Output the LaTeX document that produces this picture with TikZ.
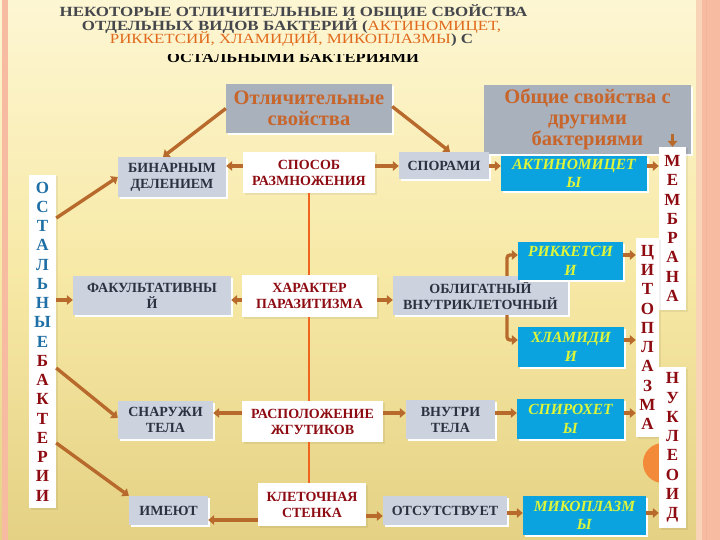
\documentclass[tikz,border=0pt]{standalone}
\usepackage{fontspec}
\setmainfont{Liberation Serif}
\usetikzlibrary{arrows.meta,calc,shadows}
\definecolor{bgtop}{HTML}{FDF6D3}
\definecolor{bgmid}{HTML}{F7E9A6}
\definecolor{bgbot}{HTML}{E4D184}
\definecolor{hgray}{HTML}{A9B1BC}
\definecolor{lgray}{HTML}{CCD3DE}
\definecolor{cyanb}{HTML}{0AA2DF}
\definecolor{ylw}{HTML}{DDF53A}
\definecolor{horange}{HTML}{C8652B}
\definecolor{dred}{HTML}{8E0B12}
\definecolor{oblue}{HTML}{1E6FA5}
\definecolor{darktxt}{HTML}{2B3140}
\definecolor{arrbrown}{HTML}{B86A2C}
\definecolor{vline}{HTML}{F0651E}
\definecolor{pinkb}{HTML}{F7BBA2}
\definecolor{orangec}{HTML}{F28A3A}
\definecolor{titlegray}{HTML}{45474C}
\definecolor{titleor}{HTML}{E06A1E}
\begin{document}
\begin{tikzpicture}[x=1pt,y=-1pt,
  box/.style={draw=none,inner sep=1pt,align=center,font=\fontsize{14}{16}\selectfont\bfseries,text=darktxt},
  graybox/.style={box,fill=lgray,drop shadow={shadow xshift=1.5pt,shadow yshift=-2pt,fill=white,opacity=1}},
  whitebox/.style={box,fill=white,text=dred,drop shadow={shadow xshift=1.5pt,shadow yshift=-2pt,fill=black,opacity=0.06}},
  cyanbox/.style={box,fill=cyanb,text=ylw,font=\fontsize{15.5}{18.5}\selectfont\bfseries\itshape,drop shadow={shadow xshift=1.5pt,shadow yshift=-2pt,fill=white,opacity=1}},
  hdrbox/.style={box,fill=hgray,text=horange,font=\fontsize{20.5}{21}\selectfont\bfseries,drop shadow={shadow xshift=1.5pt,shadow yshift=-2pt,fill=white,opacity=1}},
  colbox/.style={fill=white,inner sep=0pt,align=center,font=\fontsize{17}{19.25}\selectfont\bfseries,text=dred,drop shadow={shadow xshift=1.5pt,shadow yshift=-1.5pt,fill=black,opacity=0.06}},
  arr/.style={draw=arrbrown,line width=3.4pt,-{Triangle[length=6pt,width=9.5pt]}},
  vl/.style={draw=vline,line width=1.6pt},
  ttl/.style={inner sep=0pt,font=\fontsize{14}{14}\selectfont\bfseries,text=titlegray}
]
\useasboundingbox (0,0) rectangle (720,540);
% background
\shade[top color=bgtop,bottom color=bgbot,middle color=bgmid] (0,0) rectangle (720,540);
\fill[pinkb] (2,0) rectangle (8,540);
\fill[pinkb!60!bgtop] (696,0) rectangle (702,540);
\fill[pinkb] (702,0) rectangle (720,540);
\draw[pinkb!80!black!15!pinkb,line width=0.8pt] (706,0) -- (706,540);
\fill[orangec] (663,463) circle (20);

% title
\node[ttl] (t1) at (293.5,12.5) {\scalebox{1.21}[1]{НЕКОТОРЫЕ ОТЛИЧИТЕЛЬНЫЕ И ОБЩИЕ СВОЙСТВА}};
\node[ttl] (t2) at (291.5,26) {\scalebox{1.21}[1]{ОТДЕЛЬНЫХ ВИДОВ БАКТЕРИЙ (\textcolor{titleor}{\mdseries АКТИНОМИЦЕТ,}}};
\node[ttl] (t3) at (291.5,39.5) {\scalebox{1.21}[1]{\textcolor{titleor}{\mdseries РИККЕТСИЙ, ХЛАМИДИЙ, МИКОПЛАЗМЫ}) С}};
\begin{scope}
\clip (0,55) rectangle (720,70);
\node[ttl,text=black] (t4) at (293,57.5) {\scalebox{1.18}[1]{ОСТАЛЬНЫМИ БАКТЕРИЯМИ}};
\end{scope}

% header boxes
\node[hdrbox,minimum width=166,minimum height=49] (otl) at (309,108.5) {Отличительные\\свойства};
\node[hdrbox,minimum width=207,minimum height=69] (obsh) at (587.5,119.5) {Общие свойства с\\другими\\бактериями};

% left column
\node[graybox,minimum width=108,minimum height=40] (bin) at (172,177) {БИНАРНЫМ\\ДЕЛЕНИЕМ};
\node[graybox,minimum width=158,minimum height=39] (fak) at (152,295.5) {ФАКУЛЬТАТИВНЫ\\Й};
\node[graybox,minimum width=95,minimum height=38] (snar) at (165.5,420) {СНАРУЖИ\\ТЕЛА};
\node[graybox,minimum width=79,minimum height=29] (imeut) at (168.5,510.5) {ИМЕЮТ};

% middle column
\node[whitebox,minimum width=132,minimum height=41] (sposob) at (309,172.5) {СПОСОБ\\РАЗМНОЖЕНИЯ};
\node[whitebox,minimum width=135,minimum height=42] (har) at (309.5,296) {ХАРАКТЕР\\ПАРАЗИТИЗМА};
\node[whitebox,minimum width=141,minimum height=41] (rasp) at (312.5,421.5) {РАСПОЛОЖЕНИЕ\\ЖГУТИКОВ};
\node[whitebox,minimum width=108,minimum height=43] (klet) at (312,504.5) {КЛЕТОЧНАЯ\\СТЕНКА};

% right-middle
\node[graybox,minimum width=90,minimum height=27] (spor) at (444,165.5) {СПОРАМИ};
\node[graybox,minimum width=175,minimum height=39] (obl) at (480.5,295.5) {ОБЛИГАТНЫЙ\\ВНУТРИКЛЕТОЧНЫЙ};
\node[graybox,minimum width=89,minimum height=39] (vnutr) at (450.5,419.5) {ВНУТРИ\\ТЕЛА};
\node[graybox,minimum width=124,minimum height=29] (otsut) at (445,510.5) {ОТСУТСТВУЕТ};

% cyan boxes
\node[cyanbox,minimum width=146,minimum height=35] (akt) at (574,173.5) {АКТИНОМИЦЕТ\\Ы};
\node[cyanbox,minimum width=105,minimum height=38] (rik) at (570.5,261) {РИККЕТСИ\\И};
\node[cyanbox,minimum width=106,minimum height=40] (hlam) at (571,347) {ХЛАМИДИ\\И};
\node[cyanbox,minimum width=107,minimum height=40] (spir) at (570.5,419) {СПИРОХЕТ\\Ы};
\node[cyanbox,minimum width=123,minimum height=39] (miko) at (584.5,515.5) {МИКОПЛАЗМ\\Ы};

% vertical columns
\node[colbox,minimum width=27,minimum height=163] (memb) at (672.5,228.5) {М\\Е\\М\\Б\\Р\\А\\Н\\А};
\node[colbox,minimum width=23,minimum height=199] (cito) at (647.5,337.5) {Ц\\И\\Т\\О\\П\\Л\\А\\З\\М\\А};
\node[colbox,minimum width=27,minimum height=161] (nukl) at (672.5,447.5) {Н\\У\\К\\Л\\Е\\О\\И\\Д};
\node[colbox,text=oblue,minimum width=27,minimum height=333] (ost) at (42.5,341.5)
  {О\\С\\Т\\А\\Л\\Ь\\Н\\Ы\\Е\\\textcolor{dred}{Б}\\\textcolor{dred}{А}\\\textcolor{dred}{К}\\\textcolor{dred}{Т}\\\textcolor{dred}{Е}\\\textcolor{dred}{Р}\\\textcolor{dred}{И}\\\textcolor{dred}{И}};

% vertical orange line
\draw[vl] (309,0 |- sposob.south) -- (309,0 |- har.north);
\draw[vl] (309,0 |- har.south) -- (309,0 |- rasp.north);
\draw[vl] (309,0 |- rasp.south) -- (309,0 |- klet.north);

% arrows
\draw[arr] (otl.west) -- ($(bin.north)+(-9,0)$);
\draw[arr] ($(otl.east)+(0,-2)$) -- ($(spor.north)+(6,0)$);
\draw[arr] (sposob.west |- 0,166) -- (bin.east |- 0,166);
\draw[arr] (sposob.east |- 0,166) -- (spor.west |- 0,166);
\draw[arr] (spor.east |- 0,166) -- (akt.west |- 0,166);
\draw[arr] (akt.east |- 0,166) -- (memb.west |- 0,166);
\draw[arr] (memb.north |- 0,134) -- (memb.north);
\draw[arr] (ost.east |- 0,218) -- (bin.west);
\draw[arr] (ost.east |- 0,300) -- (fak.west |- 0,300);
\draw[arr] (har.west |- 0,300) -- (fak.east |- 0,300);
\draw[arr] (har.east |- 0,300) -- (obl.west |- 0,300);
\draw[arr,rounded corners=3pt] (507,0 |- obl.north) |- (rik.west |- 0,255);
\draw[arr] (rik.east |- 0,255) -- (cito.west |- 0,255);
\draw[arr,rounded corners=3pt] (507,0 |- obl.south) |- (hlam.west |- 0,340);
\draw[arr] (hlam.east |- 0,340) -- (cito.west |- 0,340);
\draw[arr] (ost.east |- 0,368) -- (snar.west |- 0,418);
\draw[arr] (rasp.west |- 0,413) -- (snar.east |- 0,413);
\draw[arr] (rasp.east |- 0,413) -- (vnutr.west |- 0,413);
\draw[arr] (vnutr.east |- 0,413) -- (spir.west |- 0,413);
\draw[arr] (spir.east |- 0,413) -- (cito.west |- 0,413);
\draw[arr] (ost.east |- 0,443) -- (imeut.north west);
\draw[arr] (klet.west |- 0,520) -- (imeut.east |- 0,520);
\draw[arr] (klet.east |- 0,516) -- (otsut.west |- 0,516);
\draw[arr] (otsut.east |- 0,513) -- (miko.west |- 0,513);
\draw[arr] (miko.east |- 0,513) -- (nukl.west |- 0,513);
\end{tikzpicture}
\end{document}
